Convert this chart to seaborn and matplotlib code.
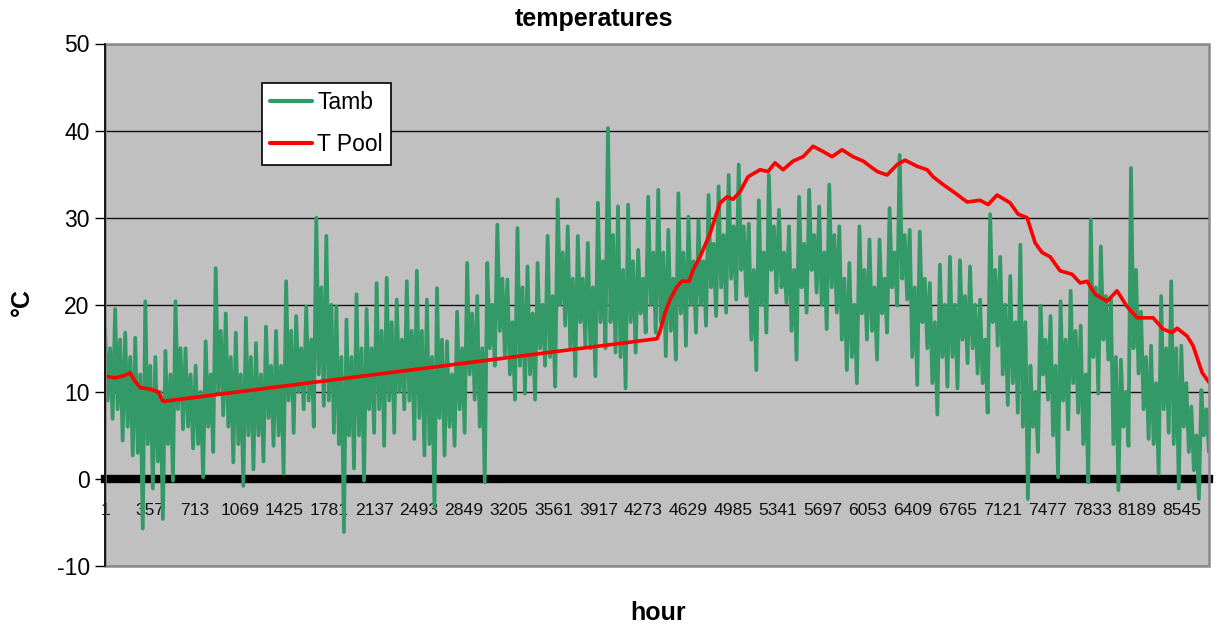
import numpy as np
import pandas as pd
import matplotlib
matplotlib.use("Agg")
import matplotlib.pyplot as plt
from matplotlib.patches import Rectangle
import seaborn as sns

# ---- data ----
# Tamb, per consecutive ~80-hour block: extreme max / min and the max / min of the dense core
tamb_hi = [17.2, 19.5, 16.8, 16.2, 20.4, 14.0, 14.7, 20.4, 15.0, 13.0,
           15.8, 24.2, 19.0, 16.8, 18.5, 15.6, 17.5, 17.0, 22.7, 18.7,
           19.8, 30.0, 27.9, 19.8, 18.3, 21.2, 19.5, 22.5, 23.1, 20.6,
           22.7, 23.9, 20.6, 21.9, 15.8, 19.2, 24.8, 21.0, 24.8, 29.2,
           22.9, 28.8, 24.4, 24.8, 27.9, 32.1, 29.0, 27.9, 27.1, 31.7,
           40.3, 31.3, 31.5, 26.3, 32.4, 33.2, 28.6, 32.8, 30.1, 29.7,
           32.6, 33.6, 34.9, 36.1, 29.3, 32.0, 34.9, 30.9, 29.0, 32.4,
           33.2, 31.3, 33.8, 29.0, 24.8, 29.0, 27.5, 27.5, 31.1, 37.2,
           28.6, 28.4, 22.5, 24.6, 25.5, 25.1, 24.4, 20.6, 30.4, 25.5,
           23.3, 26.9, 13.0, 19.9, 18.7, 20.4, 21.6, 17.6, 29.8, 26.7,
           20.6, 13.7, 35.7, 19.2, 15.3, 21.0, 22.7, 15.3, 8.3, 10.2]
tamb_lo = [6.9, 4.4, 2.7, -5.7, -1.1, -4.6, -0.2, 5.7, 3.5, 0.2,
           3.1, 7.3, 1.9, -0.8, 1.1, 2.0, 3.8, 0.6, 5.3, 8.0,
           6.0, 8.4, 5.3, -6.1, 1.2, -0.2, 5.3, 3.8, 5.3, 8.0,
           4.6, 2.7, -3.2, 2.7, 3.8, 5.3, 9.1, -0.4, 13.0, 14.1,
           9.1, 9.8, 9.1, 13.0, 10.6, 17.6, 11.8, 15.3, 11.8, 15.0,
           14.5, 10.4, 14.5, 16.8, 16.8, 14.1, 13.7, 15.3, 16.8, 17.6,
           18.7, 19.1, 20.6, 21.0, 12.5, 16.8, 21.4, 20.2, 13.7, 19.1,
           21.4, 17.2, 19.1, 12.5, 11.0, 16.0, 13.7, 16.8, 19.9, 20.6,
           10.8, 15.0, 7.4, 10.6, 10.4, 13.3, 12.1, 7.6, 15.3, 8.5,
           7.6, -2.3, 3.1, 9.1, 0.2, 5.7, 7.6, -0.4, 9.8, 13.7,
           -1.3, 3.8, 12.1, 4.6, 0.6, 5.3, -1.1, 3.1, -2.3, 3.1]
tamb_core_hi = [15, 16, 14, 12, 13, 10, 12, 15, 12, 10,
                12, 17, 14, 12, 14, 12, 13, 13, 17, 15,
                16, 22, 20, 14, 14, 15, 15, 17, 18, 16,
                17, 17, 14, 16, 12, 15, 19, 15, 20, 23,
                18, 22, 19, 20, 21, 26, 23, 23, 22, 25,
                28, 24, 25, 23, 26, 26, 23, 26, 25, 25,
                27, 28, 29, 29, 24, 26, 29, 26, 24, 27,
                28, 26, 28, 23, 20, 24, 22, 23, 26, 28,
                22, 23, 18, 20, 20, 21, 20, 16, 24, 20,
                18, 18, 10, 16, 13, 16, 17, 12, 22, 21,
                14, 10, 24, 14, 11, 15, 15, 11, 5, 8]
tamb_core_lo = [9, 8, 6, 3, 4, 2, 4, 8, 6, 4,
                6, 10, 6, 4, 5, 5, 7, 5, 9, 10,
                9, 12, 9, 4, 5, 5, 8, 8, 9, 10,
                9, 7, 4, 7, 6, 8, 12, 6, 15, 17,
                12, 13, 12, 15, 14, 20, 15, 18, 15, 18,
                18, 14, 18, 19, 20, 18, 17, 19, 20, 20,
                22, 22, 23, 24, 16, 20, 24, 22, 17, 22,
                24, 20, 22, 16, 14, 19, 17, 19, 22, 23,
                14, 18, 11, 14, 14, 16, 15, 11, 18, 12,
                11, 6, 6, 12, 5, 9, 11, 4, 14, 16,
                4, 6, 15, 8, 4, 8, 4, 6, 1, 5]

pool_hours = [0, 79, 159, 198, 238, 278, 357, 421, 460,
              4380, 4404, 4444, 4483, 4539, 4578, 4634, 4666, 4721,
              4801, 4880, 4936, 4983, 5039, 5102, 5197, 5261, 5316, 5380,
              5459, 5539, 5618, 5697, 5769, 5848, 5935, 6015, 6126, 6205,
              6285, 6348, 6443, 6523, 6570, 6650, 6729, 6840, 6943, 7007,
              7078, 7181, 7245, 7316, 7380, 7435, 7499, 7578, 7673, 7737,
              7792, 7856, 7951, 8030, 8109, 8189, 8316, 8395, 8467, 8506,
              8586, 8633, 8705, 8759]
pool_vals = [11.8, 11.6, 11.9, 12.2, 11.2, 10.5, 10.3, 10.0, 8.9,
             16.1, 17.0, 19.1, 20.6, 22.1, 22.7, 22.7, 24.0, 25.5,
             28.2, 31.7, 32.4, 32.1, 33.0, 34.7, 35.5, 35.3, 36.3, 35.5,
             36.5, 37.0, 38.2, 37.6, 37.0, 37.8, 37.0, 36.5, 35.3, 34.9,
             36.1, 36.6, 35.9, 35.5, 34.7, 33.8, 33.0, 31.8, 32.0, 31.5,
             32.6, 31.7, 30.4, 30.0, 27.1, 26.0, 25.5, 23.9, 23.5, 22.5,
             22.7, 21.2, 20.4, 21.6, 19.8, 18.5, 18.5, 17.2, 16.8, 17.3,
             16.4, 15.3, 12.2, 11.1]

n_hours = 8760
tick_labels = [str(v) for v in range(1, n_hours + 1, 356)]

# ---- build tables ----
tamb_vals = np.ravel(np.column_stack([tamb_hi, tamb_core_lo, tamb_core_hi, tamb_lo]))
tamb_hours = np.linspace(0, n_hours - 1, len(tamb_vals))
df_amb = pd.DataFrame({"hour": tamb_hours, "T": tamb_vals})
df_pool = pd.DataFrame({"hour": pool_hours, "T": pool_vals})

sns.set_style("white")
plt.rcParams["font.family"] = ["Liberation Sans", "DejaVu Sans"]
plt.rcParams["axes.unicode_minus"] = False
plt.rcParams["text.color"] = "black"
plt.rcParams["xtick.color"] = "black"
plt.rcParams["ytick.color"] = "black"

fig = plt.figure(figsize=(12.18, 6.32), dpi=100)
ax = fig.add_axes([105 / 1218, 1 - 566 / 632, 1104 / 1218, 522.5 / 632])
ax.set_facecolor("#C0C0C0")

# spines first (moving a spine resets its ticks)
for s in ["top", "right"]:
    ax.spines[s].set_visible(False)
ax.spines["bottom"].set_position(("data", 0))
ax.spines["bottom"].set_linewidth(6)
ax.spines["bottom"].set_color("black")
ax.spines["bottom"].set_zorder(2.5)
ax.spines["left"].set_color("black")
ax.spines["left"].set_linewidth(1.2)
ax.spines["left"].set_zorder(5)

sns.lineplot(data=df_amb, x="hour", y="T", ax=ax, color="#339966",
             linewidth=2.7, sort=False, estimator=None, label="Tamb", zorder=3)
sns.lineplot(data=df_pool, x="hour", y="T", ax=ax, color="#FF0000",
             linewidth=2.6, sort=False, estimator=None, label="T Pool", zorder=4)

ax.set_xlim(-0.5, n_hours - 0.5)
ax.set_ylim(-10, 50)
ax.set_yticks(range(-10, 51, 10))
ax.yaxis.grid(True, color="#111111", linewidth=1.0)
ax.xaxis.grid(False)
ax.set_axisbelow(True)

ticks = [int(t) - 1 for t in tick_labels]
ax.set_xticks(ticks)
ax.set_xticklabels(tick_labels, fontsize=12.6, color="#111111")
ax.tick_params(axis="x", length=0, pad=17)
ax.tick_params(axis="y", length=7, width=1, direction="out", labelsize=16.5,
               colors="black", pad=4, left=True)

ax.add_patch(Rectangle((0, 0), 1, 1, transform=ax.transAxes, fill=False,
                       edgecolor="#8A8A8A", linewidth=1.8, zorder=4.5, clip_on=False))

ax.set_xlabel("")
ax.set_ylabel("")

leg = ax.legend(loc="upper left", bbox_to_anchor=((262 - 105) / 1104, (566 - 83) / 522.5),
                frameon=True, fancybox=False, fontsize=16.5, handlelength=1.85,
                handletextpad=0.2, borderpad=0.35, labelspacing=0.85,
                borderaxespad=0)
leg.get_frame().set_edgecolor("black")
leg.get_frame().set_linewidth(1.2)
leg.get_frame().set_facecolor("white")
leg.get_frame().set_alpha(1)
for line in leg.get_lines():
    line.set_linewidth(3.0)
for t in leg.get_texts():
    t.set_color("black")

fig.text(594 / 1218, 1 - 19 / 632, "temperatures", ha="center", va="center",
         fontsize=18, fontweight="bold", color="black")
fig.text(658 / 1218, 1 - 613 / 632, "hour", ha="center", va="center",
         fontsize=18, fontweight="bold", color="black")
fig.text(22 / 1218, 1 - 302 / 632, "°C", ha="center", va="center",
         fontsize=18, fontweight="bold", rotation=90, color="black")

fig.savefig("out.png", dpi=100, facecolor="white")
